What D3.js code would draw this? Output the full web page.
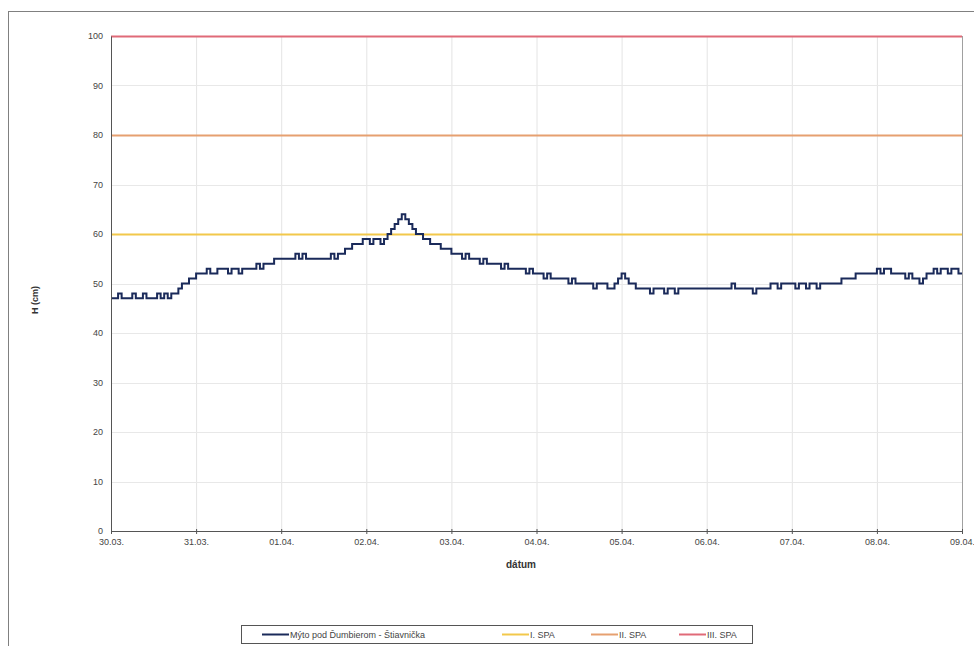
<!DOCTYPE html>
<html><head><meta charset="utf-8">
<script src="https://cdn.jsdelivr.net/npm/d3@7"></script>
<style>
body{margin:0;background:#fff;}
text{font-family:"Liberation Sans",Arial,sans-serif;}
</style></head>
<body><svg id="c" width="974" height="646"></svg>
<script>
// date tick labels (days)
const dayLabels = ["30.03.","31.03.","01.04.","02.04.","03.04.","04.04.","05.04.","06.04.","07.04.","08.04.","09.04."];
// water level H (cm), hourly, starting 30.03. 00:00
const levels = [
 47,47,48,47,47,47,48,47,47,48,47,47,47,48,47,48,47,48,48,49,50,50,51,51,
 52,52,52,53,52,52,53,53,53,52,53,53,52,53,53,53,53,54,53,54,54,54,55,55,
 55,55,55,55,56,55,56,55,55,55,55,55,55,55,56,55,56,56,57,57,58,58,58,59,
 59,58,59,59,58,59,60,61,62,63,64,63,62,61,60,60,59,59,58,58,58,57,57,57,
 56,56,56,55,56,55,55,55,54,55,54,54,54,54,53,54,53,53,53,53,53,52,53,52,
 52,52,51,52,51,51,51,51,51,50,51,50,50,50,50,50,49,50,50,50,49,49,50,51,
 52,51,50,50,49,49,49,49,48,49,49,49,48,49,49,48,49,49,49,49,49,49,49,49,
 49,49,49,49,49,49,49,50,49,49,49,49,49,48,49,49,49,49,50,50,49,50,50,50,
 50,49,50,50,49,50,50,49,50,50,50,50,50,50,51,51,51,51,52,52,52,52,52,52,
 53,52,53,53,52,52,52,52,51,52,51,51,50,51,52,52,53,52,53,53,52,53,53,52,
 52
];
const stepHours = 1;
// thresholds
const spaNames = ["I. SPA","II. SPA","III. SPA"];
const spaValues = [60,80,100];
const spaColors = ["#f2c84b","#e6a070","#e06a78"];
const seriesName = "Mýto pod Ďumbierom - Štiavnička";
const yTicks = [0,10,20,30,40,50,60,70,80,90,100];

const svg = d3.select("#c");
// outer frame
svg.append("rect").attr("x",8.5).attr("y",11.5).attr("width",1000).attr("height",700)
  .attr("fill","none").attr("stroke","#808080").attr("stroke-width",1);

const x = d3.scaleLinear().domain([0,10]).range([111,962]);
const y = d3.scaleLinear().domain([0,100]).range([531,36]);

// grid
const g = svg.append("g");
g.selectAll("line.vg").data(d3.range(1,10)).join("line")
  .attr("x1",d=>x(d)+0.5).attr("x2",d=>x(d)+0.5).attr("y1",y(100)).attr("y2",y(0))
  .attr("stroke","#e4e4e4");
g.selectAll("line.hg").data(yTicks.slice(1)).join("line")
  .attr("x1",x(0)).attr("x2",x(10)).attr("y1",d=>Math.round(y(d))+0.5).attr("y2",d=>Math.round(y(d))+0.5)
  .attr("stroke","#e8e8e8");
// right border
svg.append("line").attr("x1",x(10)+0.5).attr("x2",x(10)+0.5).attr("y1",y(100)).attr("y2",y(0))
  .attr("stroke","#a0a0a0");

// threshold lines
spaValues.forEach((v,i)=>{
  svg.append("line").attr("x1",x(0)).attr("x2",x(10)).attr("y1",Math.round(y(v))+0.5).attr("y2",Math.round(y(v))+0.5)
   .attr("stroke",spaColors[i]).attr("stroke-width",2);
});

// data line
const pts = levels.map((v,i)=>[i*stepHours/24, v]);
const line = d3.line().x(d=>x(d[0])).y(d=>y(d[1])).curve(d3.curveStepAfter);
svg.append("path").attr("d",line(pts)).attr("fill","none").attr("stroke","#1a2a5a").attr("stroke-width",2);

// axes
const xa = svg.append("g").attr("transform",`translate(0,${y(0)})`)
  .call(d3.axisBottom(x).tickValues(d3.range(0,11)).tickFormat(d=>dayLabels[d]).tickSize(3).tickSizeOuter(0));
xa.select(".domain").attr("stroke","#555");
xa.selectAll(".tick line").attr("stroke","#555").attr("y1",-2);
xa.selectAll("text").attr("font-size",9).attr("fill","#444").attr("dy","0.9em");

const ya = svg.append("g").attr("transform",`translate(${x(0)},0)`)
  .call(d3.axisLeft(y).tickValues(yTicks).tickSize(0).tickSizeOuter(0).tickPadding(8));
ya.select(".domain").attr("stroke","#555");
ya.selectAll("text").attr("font-size",9).attr("fill","#444");

// axis titles
svg.append("text").attr("x",521).attr("y",568).attr("text-anchor","middle")
  .attr("font-size",10).attr("font-weight","bold").attr("fill","#333").text("dátum");
svg.append("text").attr("transform","translate(38,300) rotate(-90)").attr("text-anchor","middle")
  .attr("font-size",9).attr("font-weight","bold").attr("fill","#333").text("H (cm)");

// legend
const lg = svg.append("g");
lg.append("rect").attr("x",241.5).attr("y",625.5).attr("width",511).attr("height",18)
  .attr("fill","#fff").attr("stroke","#555");
const legItems = [
  {name:seriesName,color:"#1a2a5a",x:262},
  {name:spaNames[0],color:spaColors[0],x:502},
  {name:spaNames[1],color:spaColors[1],x:591},
  {name:spaNames[2],color:spaColors[2],x:679}
];
legItems.forEach(it=>{
  lg.append("line").attr("x1",it.x).attr("x2",it.x+27).attr("y1",634.5).attr("y2",634.5)
    .attr("stroke",it.color).attr("stroke-width",2);
  lg.append("text").attr("x",it.x+28).attr("y",638).attr("font-size",9).attr("fill","#444").text(it.name);
});
</script></body></html>
